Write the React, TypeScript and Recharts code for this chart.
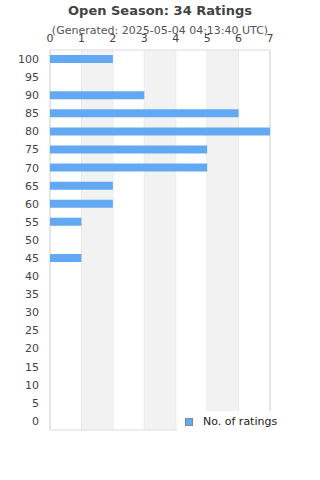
import { BarChart, Bar, XAxis, YAxis, CartesianGrid, ReferenceArea } from 'recharts'

const scores = ['100', '95', '90', '85', '80', '75', '70', '65', '60', '55', '50', '45', '40', '35', '30', '25', '20', '15', '10', '5', '0']
const counts = [2, 0, 3, 6, 7, 5, 5, 2, 2, 1, 0, 1, 0, 0, 0, 0, 0, 0, 0, 0, 0]
const xTicks = [0, 1, 2, 3, 4, 5, 6, 7]
const shadedBands = [[1, 2], [3, 4], [5, 6]]

const data = scores.map((s, i) => ({ score: s, count: counts[i] }))

const font = 'DejaVu Sans, sans-serif'
const barColor = '#62a8f2'

export default function App() {
  return (
    <div style={{ position: 'absolute', left: 0, top: 0, width: 320, height: 480, background: '#fff', fontFamily: font }}>
      <div style={{ position: 'absolute', top: 3, width: 320, textAlign: 'center', fontSize: 13, fontWeight: 'bold', color: '#444' }}>
        Open Season: 34 Ratings
      </div>
      <div style={{ position: 'absolute', top: 24, width: 320, textAlign: 'center', fontSize: 11, color: '#555' }}>
        (Generated: 2025-05-04 04:13:40 UTC)
      </div>
      <BarChart
        width={320}
        height={480}
        data={data}
        layout="vertical"
        margin={{ top: 30, right: 50, bottom: 50, left: 0 }}
        barCategoryGap={0}
      >
        {shadedBands.map(([a, b]) => (
          <ReferenceArea key={a} x1={a} x2={b} fill="#f2f2f2" fillOpacity={1} stroke="none" ifOverflow="visible" />
        ))}
        <CartesianGrid horizontal={false} stroke="#dddddd" />
        <ReferenceArea x1={0} x2={7} fill="none" stroke="#dddddd" />
        <XAxis
          type="number"
          orientation="top"
          domain={[0, 7]}
          ticks={xTicks}
          height={20}
          axisLine={false}
          tickLine={false}
          tick={{ fontSize: 11, fill: '#444', fontFamily: font }}
          interval={0}
        />
        <YAxis
          type="category"
          dataKey="score"
          width={50}
          axisLine={false}
          tickLine={false}
          tickMargin={5}
          interval={0}
          tick={{ fontSize: 11, fill: '#444', fontFamily: font }}
        />
        <Bar dataKey="count" fill={barColor} barSize={8} isAnimationActive={false} />
      </BarChart>
      <div style={{ position: 'absolute', left: 177, top: 411, width: 120, height: 24, background: '#fff' }} />
      <div style={{ position: 'absolute', left: 185, top: 418, width: 8, height: 8, background: barColor, border: '1px solid #888', boxSizing: 'border-box' }} />
      <div style={{ position: 'absolute', left: 203, top: 415, fontSize: 11, color: '#222', lineHeight: '14px' }}>
        No. of ratings
      </div>
    </div>
  )
}
